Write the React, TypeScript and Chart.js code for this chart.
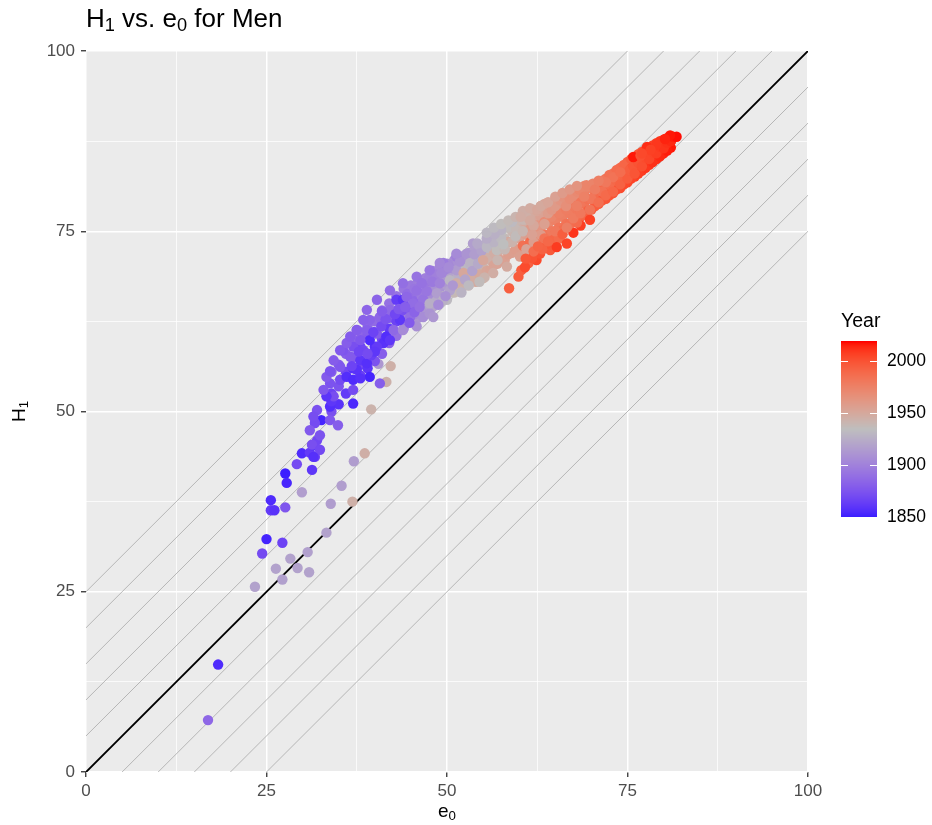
import { useEffect, useRef } from "react";
import { Chart, registerables } from "chart.js";

Chart.register(...registerables);

const FONT = '"Liberation Sans", Arial, Helvetica, sans-serif';

// Axis ticks (major every 25, minor grid every 12.5)
const axisTicks = [0, 25, 50, 75, 100];
const gridStep = 12.5;
// Parallel reference lines H1 = e0 + k
const guideOffsets = [-25, -20, -15, -10, -5, 5, 10, 15, 20, 25];
// Colour bar
const legendYears = [1850, 1900, 1950, 2000];
const yearMin = 1850;
const yearMax = 2018;
const paletteStops = ["#3C1EFF", "#BEBEBE", "#FF0000"];

// Each point: [e0, H1, year]
const earlyOutliers: number[][] = [
  [16.9, 7.2, 1885], [18.3, 14.9, 1855],
];

const crisisYears: number[][] = [
  [23.4, 25.7, 1918], [26.3, 28.2, 1918], [27.2, 26.7, 1917], [28.3, 29.6, 1918],
  [29.3, 28.3, 1918], [30.9, 27.7, 1918], [30.7, 30.5, 1917], [33.3, 33.2, 1918],
  [33.9, 37.2, 1915], [35.4, 39.7, 1916], [37.1, 43.1, 1915], [29.9, 38.8, 1916],
  [36.9, 37.5, 1944], [38.6, 44.2, 1945], [39.5, 50.3, 1942], [41.6, 54.1, 1943],
  [42.2, 56.3, 1944], [40.5, 56.6, 1912],
];

// dense body of the cloud, one column per year of e0
const bandBody: number[][] = [
  [34, 50.0, 1872], [34, 52.5, 1866], [34, 55.5, 1880],
  [35, 51.0, 1858], [35, 53.5, 1874], [35, 56.5, 1878],
  [36, 52.5, 1862], [36, 55.5, 1868], [36, 58.0, 1881],
  [37, 53.0, 1870], [37, 56.0, 1856], [37, 57.5, 1877], [37, 60.0, 1883],
  [38, 55.0, 1864], [38, 56.5, 1872], [38, 59.0, 1866], [38, 61.0, 1884],
  [39, 56.0, 1859], [39, 58.0, 1876], [39, 60.5, 1879], [39, 62.0, 1886],
  [40, 57.0, 1874], [40, 59.0, 1857], [40, 61.0, 1870], [40, 62.5, 1887],
  [41, 58.0, 1880], [41, 60.0, 1868], [41, 62.0, 1876], [41, 64.0, 1889],
  [42, 59.5, 1882], [42, 61.5, 1862], [42, 63.0, 1878], [42, 65.0, 1890],
  [43, 60.5, 1890], [43, 62.5, 1866], [43, 64.0, 1884], [43, 66.0, 1892],
  [44, 61.5, 1896], [44, 63.5, 1872], [44, 65.0, 1886], [44, 67.0, 1893],
  [45, 62.5, 1902], [45, 64.0, 1880], [45, 66.0, 1890], [45, 67.5, 1895],
  [46, 63.0, 1910], [46, 65.0, 1884], [46, 66.5, 1892], [46, 68.0, 1897],
  [47, 63.5, 1915], [47, 65.5, 1900], [47, 67.5, 1894], [47, 68.5, 1899],
  [48, 64.5, 1920], [48, 66.0, 1906], [48, 68.0, 1896], [48, 69.5, 1901],
  [49, 65.0, 1926], [49, 67.0, 1910], [49, 68.5, 1898], [49, 70.0, 1903],
  [50, 65.5, 1932], [50, 67.5, 1915], [50, 69.0, 1902], [50, 70.5, 1905],
  [51, 66.5, 1938], [51, 68.0, 1922], [51, 69.5, 1906], [51, 71.0, 1907],
  [52, 67.0, 1942], [52, 68.5, 1928], [52, 70.0, 1910], [52, 71.5, 1909],
  [53, 67.5, 1946], [53, 69.0, 1933], [53, 70.5, 1915], [53, 72.0, 1911],
  [54, 68.0, 1948], [54, 69.5, 1938], [54, 71.0, 1920], [54, 72.5, 1914],
  [55, 68.5, 1950], [55, 70.0, 1942], [55, 71.5, 1926], [55, 73.0, 1918],
  [56, 69.5, 1952], [56, 71.0, 1945], [56, 72.5, 1932], [56, 74.0, 1922],
  [57, 70.5, 1953], [57, 72.0, 1946], [57, 73.5, 1936], [57, 74.8, 1926],
  [58, 71.0, 1954], [58, 72.5, 1948], [58, 74.0, 1938], [58, 75.5, 1930],
  [59, 72.0, 1955], [59, 73.5, 1950], [59, 75.0, 1940], [59, 76.3, 1934],
  [60, 72.5, 1958], [60, 74.0, 1952], [60, 75.5, 1944], [60, 77.0, 1938],
  [61, 73.0, 1985], [61, 74.5, 1956], [61, 76.0, 1948], [61, 77.5, 1942],
  [62, 73.5, 1988], [62, 75.0, 1960], [62, 76.5, 1951], [62, 78.0, 1946],
  [63, 74.0, 1982], [63, 75.5, 1965], [63, 77.0, 1954], [63, 78.5, 1949],
  [64, 74.5, 1980], [64, 76.0, 1972], [64, 77.5, 1957], [64, 79.0, 1952],
  [65, 75.0, 1978], [65, 76.5, 1975], [65, 78.0, 1960], [65, 79.5, 1955],
  [66, 75.5, 1980], [66, 77.0, 1976], [66, 78.5, 1963], [66, 80.0, 1958],
  [67, 76.0, 1984], [67, 77.5, 1978], [67, 79.0, 1966], [67, 80.3, 1961],
  [68, 76.5, 1990], [68, 78.0, 1980], [68, 79.5, 1970], [68, 80.8, 1964],
  [69, 77.3, 1992], [69, 78.8, 1983], [69, 80.2, 1974], [69, 81.3, 1967],
  [70, 78.0, 1994], [70, 79.5, 1986], [70, 81.0, 1977],
  [71, 78.8, 1996], [71, 80.2, 1988], [71, 81.7, 1979],
  [72, 79.5, 1998], [72, 81.0, 1990], [72, 82.3, 1982],
  [73, 80.3, 2000], [73, 81.8, 1992], [73, 83.0, 1985],
  [74, 81.0, 2002], [74, 82.5, 1995], [74, 83.8, 1988],
  [75, 81.8, 2004], [75, 83.2, 1998], [75, 84.6, 1992],
  [76, 82.6, 2006], [76, 84.0, 2001], [76, 85.3, 1996],
  [77, 83.4, 2008], [77, 84.8, 2004], [77, 86.0, 2000],
  [78, 84.2, 2010], [78, 85.5, 2007], [78, 86.6, 2004],
  [79, 85.0, 2012], [79, 86.2, 2010], [79, 87.2, 2008],
  [80, 85.8, 2014], [80, 86.9, 2012], [80, 87.7, 2011],
  [81, 86.6, 2016], [81, 87.5, 2014], [81, 88.0, 2013],
];

// in-between columns of the same cloud
const bandBodyMid: number[][] = [
  [44.5, 62.8, 1899], [44.5, 64.5, 1878], [44.5, 66.3, 1888],
  [45.5, 63.5, 1904], [45.5, 65.3, 1886], [45.5, 67.0, 1893],
  [46.5, 64.0, 1912], [46.5, 66.0, 1896], [46.5, 67.8, 1895],
  [47.5, 64.8, 1918], [47.5, 66.7, 1903], [47.5, 68.5, 1897],
  [48.5, 65.3, 1923], [48.5, 67.3, 1908], [48.5, 69.0, 1899],
  [49.5, 66.0, 1929], [49.5, 68.0, 1912], [49.5, 69.8, 1902],
  [50.5, 66.8, 1935], [50.5, 68.5, 1918], [50.5, 70.3, 1904],
  [51.5, 67.3, 1940], [51.5, 69.0, 1925], [51.5, 70.8, 1908],
  [52.5, 67.8, 1944], [52.5, 69.8, 1930], [52.5, 71.3, 1912],
  [53.5, 68.5, 1947], [53.5, 70.3, 1936], [53.5, 72.0, 1917],
  [54.5, 69.0, 1949], [54.5, 70.8, 1940], [54.5, 72.5, 1922],
  [55.5, 69.5, 1951], [55.5, 71.3, 1944], [55.5, 73.2, 1928],
  [56.5, 70.3, 1952], [56.5, 72.0, 1946], [56.5, 74.0, 1930],
  [57.5, 71.0, 1954], [57.5, 72.8, 1947], [57.5, 74.8, 1934],
  [58.5, 71.8, 1956], [58.5, 73.5, 1949], [58.5, 75.5, 1937],
  [59.5, 72.5, 1957], [59.5, 74.3, 1951], [59.5, 76.3, 1940],
  [60.5, 73.0, 1984], [60.5, 74.8, 1955], [60.5, 76.8, 1944],
  [61.5, 73.5, 1986], [61.5, 75.3, 1958], [61.5, 77.2, 1948],
  [62.5, 74.0, 1985], [62.5, 75.8, 1962], [62.5, 77.8, 1951],
  [63.5, 74.5, 1982], [63.5, 76.3, 1968], [63.5, 78.3, 1954],
  [64.5, 75.0, 1979], [64.5, 77.0, 1972], [64.5, 78.8, 1957],
  [65.5, 75.5, 1981], [65.5, 77.5, 1975], [65.5, 79.3, 1960],
  [66.5, 76.0, 1983], [66.5, 78.0, 1977], [66.5, 79.8, 1962],
  [67.5, 76.5, 1986], [67.5, 78.5, 1979], [67.5, 80.3, 1965],
  [68.5, 77.0, 1990], [68.5, 79.0, 1981], [68.5, 80.8, 1969],
  [69.5, 77.8, 1993], [69.5, 79.5, 1984], [69.5, 81.2, 1972],
  [70.5, 78.5, 1995], [70.5, 80.0, 1987], [70.5, 81.5, 1976],
  [71.5, 79.3, 1997], [71.5, 80.8, 1989], [71.5, 82.0, 1980],
  [72.5, 80.0, 1999], [72.5, 81.5, 1991], [72.5, 82.8, 1984],
  [73.5, 80.8, 2001], [73.5, 82.2, 1994], [73.5, 83.5, 1987],
  [74.5, 81.5, 2003], [74.5, 83.0, 1997], [74.5, 84.2, 1990],
  [75.5, 82.3, 2005], [75.5, 83.7, 2000], [75.5, 85.0, 1995],
  [76.5, 83.0, 2007], [76.5, 84.5, 2003], [76.5, 85.7, 1998],
  [77.5, 83.8, 2009], [77.5, 85.2, 2006], [77.5, 86.3, 2002],
  [78.5, 84.6, 2011], [78.5, 85.9, 2009], [78.5, 86.9, 2006],
  [79.5, 85.4, 2013], [79.5, 86.6, 2011], [79.5, 87.5, 2010],
  [80.5, 86.2, 2015], [80.5, 87.2, 2013], [80.5, 87.9, 2012],
];

const steepBand: number[][] = [
  [25.0, 32.3, 1852], [24.4, 30.3, 1870], [27.2, 31.8, 1866],
  [25.6, 37.7, 1855], [25.6, 36.3, 1862], [26.1, 36.3, 1858], [27.6, 36.7, 1875],
  [27.6, 41.4, 1850], [27.8, 40.1, 1853], [29.2, 42.7, 1870], [31.3, 41.9, 1860],
  [29.9, 44.2, 1855], [31.0, 44.3, 1862], [31.7, 43.7, 1866], [31.4, 45.3, 1858],
  [32.0, 46.0, 1868], [31.3, 45.4, 1872], [32.4, 46.7, 1874], [32.6, 48.8, 1852],
  [31.7, 48.4, 1870], [33.8, 48.8, 1876], [34.9, 48.1, 1880], [33.8, 50.7, 1856],
  [34.0, 51.4, 1860], [34.3, 52.1, 1872], [33.8, 53.9, 1874], [35.2, 54.4, 1870],
  [36.1, 54.8, 1856], [37.0, 54.4, 1855], [37.5, 55.8, 1858], [35.2, 56.2, 1876],
  [36.6, 57.6, 1878], [35.6, 58.5, 1875], [38.0, 57.1, 1860], [38.9, 56.7, 1857],
  [38.4, 58.5, 1868], [37.0, 59.0, 1872], [32.0, 50.2, 1873], [31.5, 49.3, 1871],
  [31.0, 47.4, 1877], [32.4, 44.7, 1869], [31.5, 43.7, 1857], [33.3, 52.1, 1859],
  [32.9, 53.0, 1876], [33.3, 54.8, 1878], [33.8, 55.6, 1874], [34.3, 57.1, 1879],
  [35.2, 58.5, 1877], [36.1, 59.5, 1880], [36.6, 60.4, 1878], [37.5, 61.3, 1882],
  [37.0, 51.1, 1854], [39.3, 54.8, 1852], [38.0, 54.6, 1857], [40.7, 53.9, 1880],
];

const coreBand: number[][] = [
  [38.9, 61.3, 1880], [40.3, 60.8, 1878], [41.2, 59.5, 1858], [41.6, 60.4, 1856],
  [42.1, 59.9, 1860], [40.3, 59.0, 1862], [39.3, 59.9, 1855], [38.0, 59.9, 1876],
  [39.3, 62.7, 1882], [40.7, 63.1, 1884], [42.1, 64.1, 1886], [43.0, 65.5, 1862],
  [43.9, 65.5, 1858], [44.4, 65.9, 1885], [45.3, 65.0, 1888], [45.8, 66.8, 1890],
  [46.7, 65.5, 1892], [43.5, 62.7, 1860], [44.9, 63.1, 1888], [42.6, 61.3, 1886],
  [43.9, 61.3, 1905], [45.8, 61.8, 1908], [46.7, 63.1, 1906], [47.6, 63.6, 1910],
  [48.1, 63.1, 1912], [38.9, 64.1, 1884], [38.4, 62.7, 1881], [37.5, 61.3, 1879],
  [40.3, 65.5, 1883], [42.1, 66.8, 1887], [43.9, 67.8, 1889], [45.8, 68.7, 1892],
  [47.6, 69.6, 1894], [49.5, 70.6, 1897], [51.3, 71.5, 1899], [52.7, 71.9, 1910],
  [39.8, 61.0, 1866], [40.9, 61.8, 1870], [41.5, 62.8, 1874], [42.8, 63.5, 1868],
  [43.3, 64.2, 1876], [44.2, 64.5, 1880], [39.5, 57.8, 1864], [40.0, 58.3, 1860],
  [37.8, 58.3, 1867], [39.0, 58.0, 1870], [36.8, 56.3, 1866], [41.0, 63.9, 1879],
  [44.8, 62.3, 1878], [45.5, 63.8, 1883], [46.2, 64.5, 1890], [47.2, 66.7, 1893],
  [48.0, 68.0, 1895], [46.5, 67.8, 1891],
];

const transitionBand: number[][] = [
  [47.6, 65.0, 1925], [48.6, 66.4, 1915], [49.0, 67.8, 1900], [50.4, 68.2, 1930],
  [51.3, 69.6, 1914], [52.3, 69.2, 1950], [53.2, 70.6, 1928], [50.4, 66.8, 1918],
  [49.5, 65.5, 1926], [51.3, 67.8, 1945], [48.8, 64.8, 1905], [49.8, 66.0, 1908],
  [50.8, 67.5, 1912], [49.2, 69.2, 1902], [50.2, 70.0, 1905], [51.8, 70.8, 1908],
  [52.5, 68.3, 1920], [53.5, 69.5, 1918], [54.3, 70.5, 1922], [53.8, 71.8, 1915],
  [54.8, 72.3, 1918], [52.0, 66.5, 1928], [53.0, 67.5, 1932], [51.3, 71.9, 1905],
  [49.0, 70.6, 1903], [53.6, 73.3, 1916], [54.2, 73.3, 1922],
];

const interwarBand: number[][] = [
  [55.0, 71.0, 1950], [56.0, 69.6, 1952], [56.9, 72.4, 1935], [55.5, 72.8, 1930],
  [56.5, 73.5, 1928], [57.5, 74.0, 1932], [58.3, 75.6, 1936], [59.6, 75.2, 1938],
  [60.6, 76.6, 1940], [57.0, 71.0, 1940], [58.0, 72.5, 1938], [59.0, 73.5, 1942],
  [58.3, 70.1, 1948], [56.4, 69.2, 1946], [55.2, 68.6, 1942], [54.5, 68.0, 1936],
  [57.8, 73.2, 1934], [59.5, 74.3, 1936], [60.5, 75.0, 1940], [61.0, 77.0, 1944],
  [59.0, 76.3, 1932], [57.5, 75.2, 1928], [55.5, 74.0, 1924], [56.6, 74.6, 1926],
  [55.5, 74.8, 1930], [56.5, 75.5, 1932], [57.5, 76.0, 1935], [58.5, 76.5, 1937],
  [59.5, 77.0, 1941], [60.5, 77.8, 1945], [61.5, 78.2, 1947],
];

const postwarBand: number[][] = [
  [60.1, 71.5, 1955], [61.0, 72.5, 1952], [62.0, 73.5, 1956], [63.0, 74.5, 1958],
  [62.0, 75.8, 1950], [62.9, 77.9, 1953], [63.5, 76.0, 1955], [64.0, 77.5, 1957],
  [64.5, 78.0, 1960], [65.0, 78.5, 1959], [65.7, 79.3, 1962], [66.1, 79.8, 1964],
  [66.5, 78.5, 1966], [67.0, 79.5, 1968], [67.5, 80.0, 1968], [68.0, 80.5, 1970],
  [68.4, 80.7, 1972], [69.3, 81.4, 1973], [61.5, 76.5, 1948], [60.2, 77.0, 1946],
  [62.5, 78.0, 1950], [63.5, 78.8, 1952], [61.8, 74.5, 1954], [63.0, 78.5, 1949],
  [64.0, 79.0, 1951], [65.0, 79.8, 1954], [66.0, 80.3, 1958], [67.0, 80.8, 1960],
  [68.0, 81.3, 1963], [70.2, 81.6, 1973],
];

const lowBranch: number[][] = [
  [58.6, 67.1, 1994], [59.9, 68.7, 1995], [60.3, 69.6, 1994], [61.3, 70.6, 1993],
  [62.4, 71.0, 2003], [62.9, 71.9, 2000], [64.3, 72.4, 1996], [63.8, 73.3, 1998],
  [64.7, 73.8, 1990], [65.5, 74.0, 1988], [66.1, 75.2, 1985], [66.6, 73.3, 2005],
  [65.2, 72.8, 2008], [67.5, 74.8, 2010], [68.5, 75.8, 2007], [69.8, 76.6, 2006],
  [63.2, 72.5, 1992], [61.8, 71.3, 1999], [60.8, 70.0, 2002], [62.0, 72.2, 1986],
  [63.5, 74.0, 1983], [65.0, 75.0, 1980], [67.0, 76.0, 1984], [60.9, 71.2, 1997],
  [62.6, 72.9, 1991], [64.0, 73.6, 1989], [66.0, 74.6, 1994], [68.0, 76.2, 1987],
];

const recentBand: number[][] = [
  [66.6, 75.5, 1976], [67.5, 76.8, 1978], [68.5, 77.5, 1980], [69.8, 78.0, 1982],
  [70.0, 79.5, 1981], [71.0, 79.0, 1985], [71.5, 80.5, 1984], [72.0, 80.0, 1988],
  [72.5, 81.5, 1987], [73.0, 80.5, 1990], [73.5, 82.0, 1989], [74.0, 81.5, 1992],
  [74.5, 82.8, 1991], [75.0, 82.3, 1995], [75.3, 83.5, 1994], [75.8, 84.0, 1997],
  [76.0, 83.0, 1998], [76.5, 84.5, 1999], [77.0, 84.0, 2001], [77.5, 85.2, 2002],
  [78.0, 85.0, 2004], [78.5, 86.0, 2005], [79.0, 85.8, 2007], [79.5, 86.7, 2008],
  [80.0, 86.5, 2010], [80.5, 87.3, 2011], [81.0, 87.5, 2013], [81.3, 88.1, 2015],
  [81.8, 88.1, 2017], [75.8, 85.3, 2016], [77.7, 86.7, 2012], [80.9, 88.3, 2016],
  [70.5, 80.8, 1977], [69.0, 79.8, 1975], [68.0, 78.5, 1976], [73.0, 82.5, 1983],
  [74.0, 83.2, 1986], [72.0, 81.8, 1980], [76.8, 85.5, 2000], [79.0, 87.0, 2009],
  [80.2, 87.8, 2014], [78.2, 86.3, 2006], [77.0, 85.8, 2003], [71.0, 82.0, 1976],
];

const allPoints = [
  ...earlyOutliers, ...crisisYears, ...bandBody, ...bandBodyMid, ...steepBand, ...coreBand,
  ...transitionBand, ...interwarBand, ...postwarBand, ...lowBranch, ...recentBand,
];

// ---- colour scale: Lab interpolation blue -> grey -> red ----
function toLinear(c: number) {
  const v = c / 255;
  return v <= 0.04045 ? v / 12.92 : Math.pow((v + 0.055) / 1.055, 2.4);
}
function fromLinear(c: number) {
  const v = c <= 0.0031308 ? 12.92 * c : 1.055 * Math.pow(c, 1 / 2.4) - 0.055;
  return Math.round(Math.min(1, Math.max(0, v)) * 255);
}
const XN = 0.95047, YN = 1.0, ZN = 1.08883;
const EPS = 216 / 24389, KAP = 24389 / 27;
function fLab(t: number) { return t > EPS ? Math.cbrt(t) : (KAP * t + 16) / 116; }
function fInv(t: number) { const t3 = t * t * t; return t3 > EPS ? t3 : (116 * t - 16) / KAP; }
function hexToLab(hex: string) {
  const r = toLinear(parseInt(hex.slice(1, 3), 16));
  const g = toLinear(parseInt(hex.slice(3, 5), 16));
  const b = toLinear(parseInt(hex.slice(5, 7), 16));
  const X = 0.4124564 * r + 0.3575761 * g + 0.1804375 * b;
  const Y = 0.2126729 * r + 0.7151522 * g + 0.072175 * b;
  const Z = 0.0193339 * r + 0.119192 * g + 0.9503041 * b;
  const fx = fLab(X / XN), fy = fLab(Y / YN), fz = fLab(Z / ZN);
  return [116 * fy - 16, 500 * (fx - fy), 200 * (fy - fz)];
}
function labToCss(L: number, a: number, bb: number) {
  const fy = (L + 16) / 116;
  const fx = fy + a / 500;
  const fz = fy - bb / 200;
  const X = fInv(fx) * XN, Y = fInv(fy) * YN, Z = fInv(fz) * ZN;
  const r = 3.2404542 * X - 1.5371385 * Y - 0.4985314 * Z;
  const g = -0.969266 * X + 1.8760108 * Y + 0.041556 * Z;
  const b = 0.0556434 * X - 0.2040259 * Y + 1.0572252 * Z;
  return `rgb(${fromLinear(r)},${fromLinear(g)},${fromLinear(b)})`;
}
const labStops = paletteStops.map(hexToLab);
function yearColor(year: number) {
  const t = Math.min(1, Math.max(0, (year - yearMin) / (yearMax - yearMin)));
  const seg = t < 0.5 ? 0 : 1;
  const u = seg === 0 ? t * 2 : (t - 0.5) * 2;
  const a = labStops[seg], b = labStops[seg + 1];
  return labToCss(a[0] + (b[0] - a[0]) * u, a[1] + (b[1] - a[1]) * u, a[2] + (b[2] - a[2]) * u);
}

type Part = { t: string; sub?: boolean };
function drawRich(ctx: CanvasRenderingContext2D, parts: Part[], x: number, y: number, size: number, color: string, align: "left" | "center") {
  const subSize = size * 0.7;
  let total = 0;
  const widths = parts.map((p) => {
    ctx.font = `${p.sub ? subSize : size}px ${FONT}`;
    const w = ctx.measureText(p.t).width;
    total += w;
    return w;
  });
  let cx = align === "center" ? x - total / 2 : x;
  ctx.fillStyle = color;
  ctx.textAlign = "left";
  ctx.textBaseline = "alphabetic";
  parts.forEach((p, i) => {
    ctx.font = `${p.sub ? subSize : size}px ${FONT}`;
    ctx.fillText(p.t, cx, p.sub ? y + size * 0.17 : y);
    cx += widths[i];
  });
}

const decorPlugin = {
  id: "decor",
  beforeDraw(chart: any) {
    const { ctx, chartArea } = chart;
    ctx.save();
    ctx.fillStyle = "#FFFFFF";
    ctx.fillRect(0, 0, chart.width, chart.height);
    ctx.fillStyle = "#EBEBEB";
    ctx.fillRect(chartArea.left, chartArea.top, chartArea.right - chartArea.left, chartArea.bottom - chartArea.top);
    ctx.restore();
  },
  afterDraw(chart: any) {
    const { ctx, chartArea } = chart;
    ctx.save();
    // title
    drawRich(ctx, [{ t: "H" }, { t: "1", sub: true }, { t: " vs. e" }, { t: "0", sub: true }, { t: " for Men" }],
      chartArea.left, 26.5, 26, "#000000", "left");
    // x axis title
    drawRich(ctx, [{ t: "e" }, { t: "0", sub: true }], (chartArea.left + chartArea.right) / 2, 817, 19, "#000000", "center");
    // y axis title
    ctx.save();
    ctx.translate(25, (chartArea.top + chartArea.bottom) / 2);
    ctx.rotate(-Math.PI / 2);
    drawRich(ctx, [{ t: "H" }, { t: "1", sub: true }], 0, 0, 19, "#000000", "center");
    ctx.restore();

    // colour bar legend
    const barL = 841, barR = 877, yBottom = 516.5, pxPerYear = 1.04;
    const yOf = (yr: number) => yBottom - (yr - yearMin) * pxPerYear;
    const top = yOf(yearMax);
    for (let y = Math.floor(top); y < yBottom; y++) {
      const yr = yearMin + (yBottom - (y + 0.5)) / pxPerYear;
      ctx.fillStyle = yearColor(yr);
      ctx.fillRect(barL, y, barR - barL, 1);
    }
    ctx.font = `19.5px ${FONT}`;
    ctx.fillStyle = "#000000";
    ctx.textAlign = "left";
    ctx.textBaseline = "alphabetic";
    ctx.fillText("Year", 841, 326.5);
    ctx.strokeStyle = "#FFFFFF";
    ctx.lineWidth = 1;
    ctx.font = `17.5px ${FONT}`;
    ctx.textBaseline = "middle";
    legendYears.forEach((yr) => {
      const y = Math.round(yOf(yr)) + 0.5;
      ctx.beginPath();
      ctx.moveTo(barL, y); ctx.lineTo(barL + 7, y);
      ctx.moveTo(barR - 7, y); ctx.lineTo(barR, y);
      ctx.stroke();
      ctx.fillStyle = "#000000";
      ctx.fillText(String(yr), 887, yOf(yr) + 0.5);
    });
    ctx.restore();
  },
};

const isMajor = (v: number) => axisTicks.includes(v);

export default function App() {
  const ref = useRef<HTMLCanvasElement | null>(null);
  useEffect(() => {
    if (!ref.current) return;
    const scatter = allPoints.map((p) => ({ x: p[0], y: p[1] }));
    const colors = allPoints.map((p) => yearColor(p[2]));
    const guideSets = guideOffsets.map((k) => ({
      type: "line" as const,
      data: [{ x: 0, y: k }, { x: 100, y: 100 + k }],
      borderColor: "#A8A8A8",
      borderWidth: 0.8,
      pointRadius: 0,
      order: 3,
      clip: 0,
    }));
    const makeScale = (axis: "x" | "y") => ({
      type: "linear" as const,
      min: 0,
      max: 100,
      position: axis === "x" ? ("bottom" as const) : ("left" as const),
      ticks: {
        stepSize: gridStep,
        autoSkip: false,
        maxRotation: 0,
        color: "#4D4D4D",
        font: { family: FONT, size: 17 },
        padding: axis === "x" ? 4 : 6,
        callback: (v: any) => (isMajor(Number(v)) ? String(v) : ""),
      },
      grid: {
        color: "#FFFFFF",
        lineWidth: (c: any) => (c.tick && isMajor(c.tick.value) ? 1.5 : 0.75),
        drawTicks: true,
        tickLength: 5,
        tickWidth: 1.3,
        tickColor: (c: any) => (c.tick && isMajor(c.tick.value) ? "#333333" : "rgba(0,0,0,0)"),
      },
      border: { display: false },
      title: { display: false },
      afterFit: (s: any) => {
        if (axis === "x") s.height = 53;
        else s.width = 86;
      },
    });
    const chart = new Chart(ref.current, {
      type: "scatter",
      data: {
        datasets: [
          {
            type: "scatter",
            data: scatter,
            pointBackgroundColor: colors,
            pointBorderWidth: 0,
            pointRadius: 5.2,
            pointHoverRadius: 5.2,
            order: 0,
          } as any,
          ...guideSets,
          {
            type: "line",
            data: [{ x: 0, y: 0 }, { x: 100, y: 100 }],
            borderColor: "#000000",
            borderWidth: 1.9,
            pointRadius: 0,
            order: 2,
            clip: 0,
          } as any,
        ],
      },
      options: {
        responsive: false,
        animation: false,
        devicePixelRatio: 1,
        layout: { padding: { left: 0, top: 51, right: 124, bottom: 0 } },
        plugins: { legend: { display: false }, tooltip: { enabled: false }, title: { display: false } },
        scales: { x: makeScale("x"), y: makeScale("y") } as any,
      },
      plugins: [decorPlugin],
    });
    return () => chart.destroy();
  }, []);
  return (
    <div style={{ position: "fixed", left: 0, top: 0, width: 932, height: 825, background: "#FFFFFF" }}>
      <canvas ref={ref} width={932} height={825} style={{ display: "block", width: 932, height: 825 }} />
    </div>
  );
}
